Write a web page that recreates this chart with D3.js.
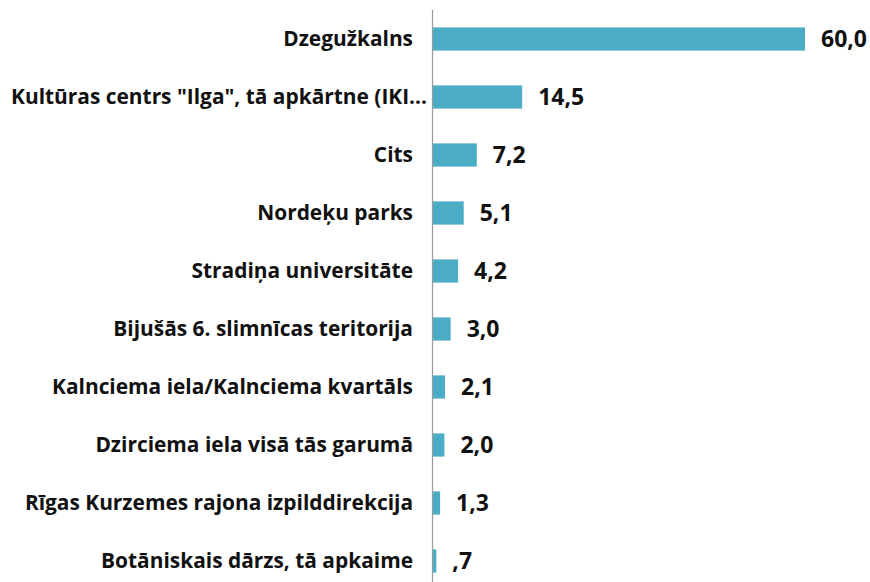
<!DOCTYPE html>
<html><head><meta charset="utf-8">
<script src="https://cdn.jsdelivr.net/npm/d3@7"></script>
<style>body{margin:0;background:#fff}</style>
</head><body>
<svg id="c" width="870" height="582"></svg>
<script>
const categories = [
  "Dzegužkalns",
  "Kultūras centrs \"Ilga\", tā apkārtne (IKI...",
  "Cits",
  "Nordeķu parks",
  "Stradiņa universitāte",
  "Bijušās 6. slimnīcas teritorija",
  "Kalnciema iela/Kalnciema kvartāls",
  "Dzirciema iela visā tās garumā",
  "Rīgas Kurzemes rajona izpilddirekcija",
  "Botāniskais dārzs, tā apkaime"
];
const values = [60.0, 14.5, 7.2, 5.1, 4.2, 3.0, 2.1, 2.0, 1.3, 0.7];
const valueLabels = ["60,0", "14,5", "7,2", "5,1", "4,2", "3,0", "2,1", "2,0", "1,3", ",7"];

const svg = d3.select("#c");
const x0 = 432;
const x = d3.scaleLinear().domain([0, 60]).range([x0, 805]);
const y = d3.scaleBand().domain(categories).range([10, 590]).paddingInner(0.6).paddingOuter(0.3);
const font = "'Open Sans', sans-serif";

svg.selectAll("rect.bar").data(values).join("rect")
  .attr("class", "bar")
  .attr("x", x0)
  .attr("y", (d, i) => y(categories[i]))
  .attr("width", d => x(d) - x0)
  .attr("height", y.bandwidth())
  .attr("fill", "#4bacc6");

const axis = svg.append("g").attr("transform", `translate(${x0},0)`)
  .call(d3.axisLeft(y).tickSize(0).tickPadding(19));
axis.select(".domain").attr("stroke", "#9a9a9a").attr("stroke-width", 1.2)
  .attr("d", "M0.5,10V590");
axis.selectAll("text").attr("font-family", font).attr("font-weight", "bold")
  .attr("font-size", 20.9).attr("fill", "#111")
  .attr("x", d => d.endsWith("...") ? -5 : -19);

svg.selectAll("text.val").data(values).join("text")
  .attr("class", "val")
  .attr("x", d => x(d) + 16)
  .attr("y", (d, i) => y(categories[i]) + y.bandwidth() / 2)
  .attr("dy", "0.36em")
  .attr("font-family", font).attr("font-weight", "bold")
  .attr("font-size", 23).attr("fill", "#111")
  .text((d, i) => valueLabels[i]);
</script>
</body></html>
